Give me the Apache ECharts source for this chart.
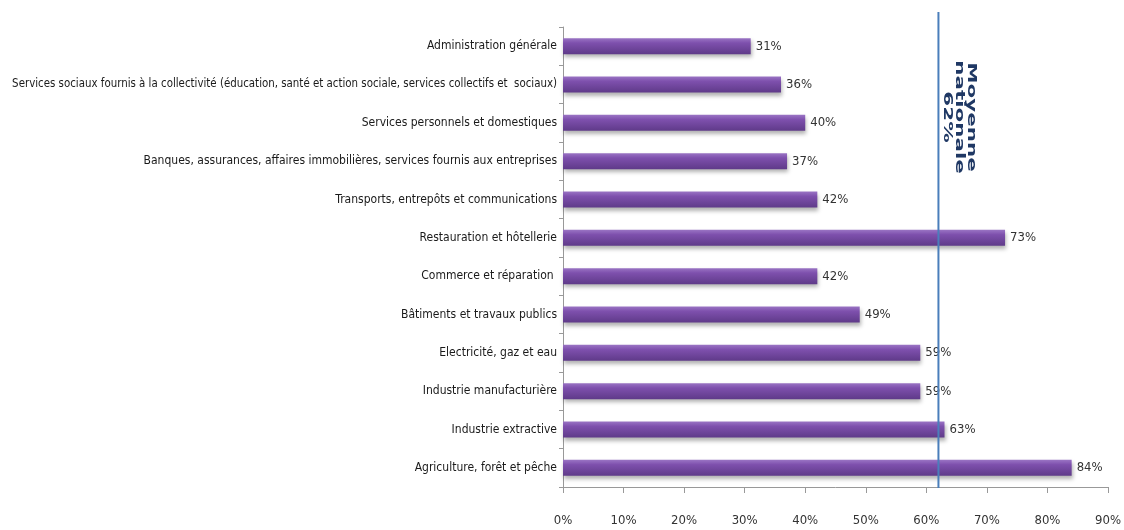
<!DOCTYPE html>
<html>
<head>
<meta charset="utf-8">
<script src="https://cdn.jsdelivr.net/npm/echarts@6/dist/echarts.min.js"></script>
<style>
  html, body { margin: 0; padding: 0; background: #fff; }
  #chart { width: 1124px; height: 530px; }
</style>
</head>
<body>
<div id="chart"></div>
<script>
// secteurs, du haut vers le bas
var secteurs = [
    'Administration générale',
    'Services sociaux fournis à la collectivité (éducation, santé et action sociale, services collectifs et  sociaux)',
    'Services personnels et domestiques',
    'Banques, assurances, affaires immobilières, services fournis aux entreprises',
    'Transports, entrepôts et communications',
    'Restauration et hôtellerie',
    'Commerce et réparation ',
    'Bâtiments et travaux publics',
    'Electricité, gaz et eau',
    'Industrie manufacturière',
    'Industrie extractive',
    'Agriculture, forêt et pêche'
];
var taux = [31, 36, 40, 37, 42, 73, 42, 49, 59, 59, 63, 84];
var moyenne = 62;
var ticksX = [0, 10, 20, 30, 40, 50, 60, 70, 80, 90];

var police = '"DejaVu Sans Condensed", "Liberation Sans Narrow", sans-serif';

var dom = document.getElementById('chart');
var myChart = echarts.init(dom);

var option = {
    backgroundColor: '#fff',
    animation: false,
    grid: {
        left: 563,
        right: 16,
        top: 27,
        bottom: 43,
        outerBoundsMode: 'none',
        containLabel: false
    },
    xAxis: {
        type: 'value',
        min: ticksX[0],
        max: ticksX[ticksX.length - 1],
        interval: 10,
        axisLine: { show: true, lineStyle: { color: '#999', width: 1 } },
        axisTick: { show: true, length: 6, lineStyle: { color: '#999' } },
        axisLabel: {
            margin: 27,
            fontFamily: police,
            fontSize: 13,
            color: '#333',
            formatter: '{value}%'
        },
        splitLine: { show: false }
    },
    yAxis: {
        type: 'category',
        inverse: true,
        data: secteurs,
        axisLine: { show: true, lineStyle: { color: '#999', width: 1 } },
        axisTick: { show: true, length: 4, lineStyle: { color: '#999' } },
        axisLabel: {
            margin: 6,
            fontFamily: police,
            fontSize: 12,
            color: '#1a1a1a',
            formatter: function (v) {
                // le libellé le plus long est un peu resserré
                return v.length > 90 ? '{l|' + v + '}' : v;
            },
            rich: {
                l: { fontFamily: police, fontSize: 11.4, color: '#1a1a1a' }
            }
        }
    },
    series: [
        {
            type: 'bar',
            data: taux,
            barWidth: 16,
            itemStyle: {
                color: new echarts.graphic.LinearGradient(0, 0, 0, 1, [
                    { offset: 0, color: '#9a74c4' },
                    { offset: 0.3, color: '#7e50ad' },
                    { offset: 1, color: '#5f3a89' }
                ]),
                shadowColor: 'rgba(0, 0, 0, 0.3)',
                shadowBlur: 4,
                shadowOffsetX: 1,
                shadowOffsetY: 3
            },
            label: {
                show: true,
                position: 'right',
                distance: 5,
                fontFamily: police,
                fontSize: 13,
                color: '#333',
                formatter: '{c}%'
            }
        }
    ]
};
myChart.setOption(option, true);

// ligne et annotation de la moyenne nationale
var xm = myChart.convertToPixel({ xAxisIndex: 0 }, moyenne);
myChart.setOption({
    graphic: [
        {
            type: 'line',
            shape: { x1: xm, y1: 12, x2: xm, y2: 488 },
            style: { stroke: '#4a7ebb', lineWidth: 2 },
            z: 10
        },
        {
            type: 'text',
            x: xm + 21,
            y: 117,
            rotation: -Math.PI / 2,
            scaleX: 1.65,
            style: {
                text: 'Moyenne\nnationale\n62%',
                fontFamily: '"DejaVu Sans", sans-serif',
                fontWeight: 'bold',
                fontSize: 13,
                lineHeight: 12,
                fill: '#1f3864',
                align: 'center',
                verticalAlign: 'middle'
            },
            z: 10
        }
    ]
});
</script>
</body>
</html>
